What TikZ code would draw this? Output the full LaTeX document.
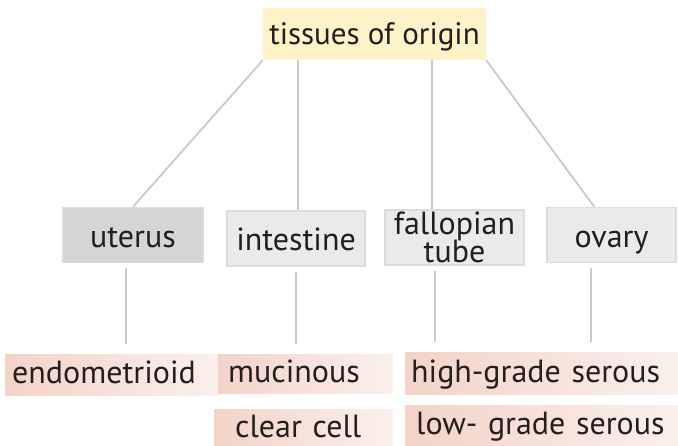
\documentclass[tikz,border=0pt]{standalone}
\usepackage{fontspec}
\setmainfont{PT Sans}
\usetikzlibrary{calc}
\usepackage{xcolor}
\definecolor{orgyellow}{HTML}{FDF2C8}
\definecolor{orgdark}{HTML}{D4D5D7}
\definecolor{orglight}{HTML}{EAEAEB}
\definecolor{orgedge}{HTML}{DCDCDD}
\definecolor{orgline}{HTML}{C9C9CA}
\definecolor{orgpink}{HTML}{F3D3C8}
\definecolor{orgpale}{HTML}{FBF0EC}
\definecolor{orgtext}{HTML}{231F20}
\newcommand{\tightlines}{\fontsize{32}{28}\selectfont\lineskiplimit=-30pt\relax}

\begin{document}
\begin{tikzpicture}[x=1pt, y=-1pt, font=\fontsize{32}{24}\selectfont, text=orgtext,
    organ/.style={draw=orgedge, line width=1.5pt, fill=orglight, minimum height=55pt,
      inner sep=0pt},
    oneline/.style={text height=24pt, text depth=0pt},
    subtype/.style={left color=orgpink, right color=orgpale, anchor=west, minimum height=41pt,
      inner ysep=0pt, align=left, text height=20pt, text depth=2pt},
    link/.style={orgline, line width=1.8pt}]
    \useasboundingbox (0,0) rectangle (678,445);
    \node[fill=orgyellow, minimum width=223pt, minimum height=52pt, inner sep=0pt,
      font=\fontsize{31}{24}\selectfont, text height=20pt, text depth=0pt] (origin)
      at (374.5,34) {tissues of origin};
    \node[organ, oneline, fill=orgdark, minimum width=140pt] (uterus) at (133,235) {uterus};
    \node[organ, oneline, minimum width=138pt] (intestine) at (296,238.5) {intestine};
    \node[organ, minimum width=139pt, align=center, font=\tightlines] (tube) at (454.5,237.5)
      {fallopian\\ tube};
    \node[organ, oneline, minimum width=129pt] (ovary) at (611.5,235) {ovary};
    \node[subtype, inner xsep=7pt, text width=199pt] (endo) at (5,374.5) {endometrioid};
    \node[subtype, inner xsep=10pt, text width=155pt, minimum height=39pt] (muc) at (218,373.5)
      {mucinous};
    \node[subtype, inner xsep=21pt, text width=137pt, minimum height=39pt] (clear) at (214,428.5)
      {clear cell};
    \node[subtype, inner xsep=6pt, text width=263pt, minimum height=42pt] (high) at (405,373)
      {high-grade serous};
    \node[subtype, inner xsep=11pt, text width=253pt] (low) at (405,425.5) {low- grade serous};
    \coordinate (intx) at ($(intestine.north)+(2,0)$);
    \coordinate (tubex) at ($(tube.north)+(-22.5,0)$);
    \draw[link] (origin.south west) -- (uterus.north);
    \draw[link] (origin.south -| intx) -- (intx);
    \draw[link] (origin.south -| tubex) -- (tubex);
    \draw[link] (origin.south east) -- ($(ovary.north west)+(48,0)$);
    \foreach \a/\b/\dx in {uterus/endo/-7, intestine/muc/0, tube/high/-19.5, ovary/high/-20.5} {
      \coordinate (s\a) at ($(\a.south)+(\dx,0)$);
      \draw[link, shorten <=5pt, shorten >=10pt] (s\a) -- (s\a |- \b.north);
    }
  \end{tikzpicture}
\end{document}
